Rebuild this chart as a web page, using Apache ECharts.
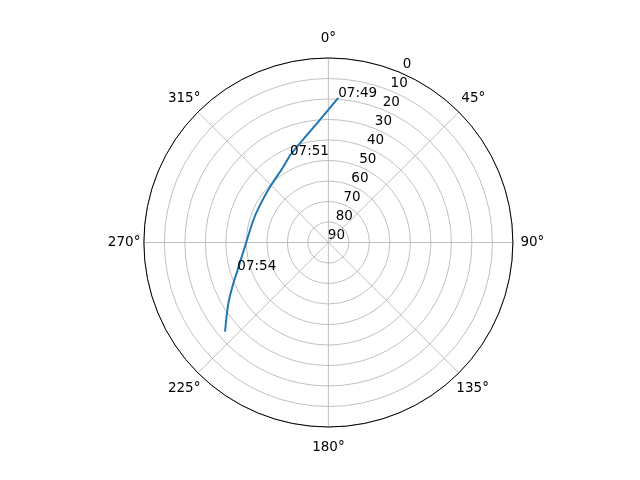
<!DOCTYPE html>
<html>
<head>
<meta charset="utf-8">
<script src="https://cdn.jsdelivr.net/npm/echarts@6/dist/echarts.min.js"></script>
<style>html,body{margin:0;padding:0;background:#fff;}#c{width:640px;height:480px;}</style>
</head>
<body>
<div id="c"></div>
<script>
// Satellite pass: azimuth (deg, clockwise from north) and elevation (deg)
const azimuth   = [3.9, 354.3, 341.6, 336.2, 329.1, 313.5, 295.8, 286.5, 270.0, 252.7, 246.7, 238.7, 229.2];
const elevation = [19.3, 31.8, 41.0, 43.6, 47.1, 50.7, 52.0, 51.8, 49.9, 43.5, 39.5, 32.9, 23.4];
const timeLabels = ['07:49', '', '', '07:51', '', '', '', '', '', '07:54', '', '', ''];
const angleTicks = [0, 45, 90, 135, 180, 225, 270, 315];
const radiusTicks = [0, 10, 20, 30, 40, 50, 60, 70, 80, 90];

const font = 'DejaVu Sans';
const trackData = elevation.map((e, i) => [e, azimuth[i]]);
const labelData = [];
timeLabels.forEach((t, i) => { if (t) labelData.push({ value: [elevation[i], azimuth[i]], name: t }); });

// rich style key per angle label (emulates matplotlib's centred placement)
const angleStyleKey = { 0: 'n', 45: 'ne', 90: 'e', 135: 'dt', 180: 's', 225: 'dt', 270: 'w', 315: 'db' };
const txt = { color: '#000', fontFamily: font, fontSize: 13.5 };

const chart = echarts.init(document.getElementById('c'), null, { renderer: 'canvas' });
chart.setOption({
  animation: false,
  backgroundColor: '#ffffff',
  polar: [
    { center: ['51.31%', '50.52%'], radius: 184.5 },
    { center: ['52.56%', '48.96%'], radius: 184.5 }
  ],
  angleAxis: [
    {
      polarIndex: 0, type: 'value', min: 0, max: 360, interval: 45,
      startAngle: 90, clockwise: true, z: 5,
      axisLine: { show: true, lineStyle: { color: '#000', width: 1 } },
      axisTick: { show: false },
      splitLine: { show: true, lineStyle: { color: '#b0b0b0', width: 0.8 } },
      axisLabel: {
        margin: -3.5, color: '#000', fontFamily: font, fontSize: 13.5,
        formatter: v => (angleTicks.indexOf(v) >= 0 ? '{' + angleStyleKey[v] + '|' + v + '°}' : ''),
        rich: {
          n:  Object.assign({ padding: [0, 0, 15.5, 0] }, txt),
          s:  Object.assign({ padding: [17.5, 0, 0, 0] }, txt),
          e:  Object.assign({ padding: [0, 0, 0, 11] }, txt),
          w:  Object.assign({ padding: [0, 7, 0, 0] }, txt),
          dt: Object.assign({ padding: [11.5, 0, 0, 0] }, txt),
          db: Object.assign({ padding: [0, 0, 9.5, 0] }, txt),
          ne: Object.assign({ padding: [0, 0, 9.5, 5] }, txt)
        }
      }
    },
    {
      polarIndex: 1, type: 'value', min: 0, max: 360, interval: 45,
      startAngle: 67.5, clockwise: true,
      axisLine: { show: false }, axisTick: { show: false },
      splitLine: { show: false }, axisLabel: { show: false }
    }
  ],
  radiusAxis: [
    {
      polarIndex: 0, type: 'value', min: 0, max: 90, interval: 10, inverse: true,
      axisLine: { show: false }, axisTick: { show: false }, axisLabel: { show: false },
      splitLine: { show: true, lineStyle: { color: '#b0b0b0', width: 0.8 } }
    },
    {
      polarIndex: 1, type: 'value', min: 0, max: 90, interval: 10, inverse: true,
      axisLine: { show: false }, axisTick: { show: false }, splitLine: { show: false },
      axisLabel: {
        show: true, margin: 0, align: 'center', verticalAlign: 'middle',
        showMinLabel: true, showMaxLabel: true, hideOverlap: false,
        color: '#000', fontFamily: font, fontSize: 13.5,
        formatter: v => (radiusTicks.indexOf(v) >= 0 ? String(v) : '')
      }
    }
  ],
  series: [
    {
      type: 'line', coordinateSystem: 'polar', polarIndex: 0,
      data: trackData, showSymbol: false, smooth: 0.3, z: 10,
      lineStyle: { color: '#1f77b4', width: 2 }
    },
    {
      type: 'scatter', coordinateSystem: 'polar', polarIndex: 0,
      data: labelData, symbolSize: 0, z: 11,
      itemStyle: { opacity: 1 },
      label: {
        show: true, position: [0, 0], offset: [0, 3], align: 'left', verticalAlign: 'bottom',
        formatter: p => p.name, color: '#000', opacity: 1, fontFamily: font, fontSize: 13.5
      }
    }
  ]
});
</script>
</body>
</html>
